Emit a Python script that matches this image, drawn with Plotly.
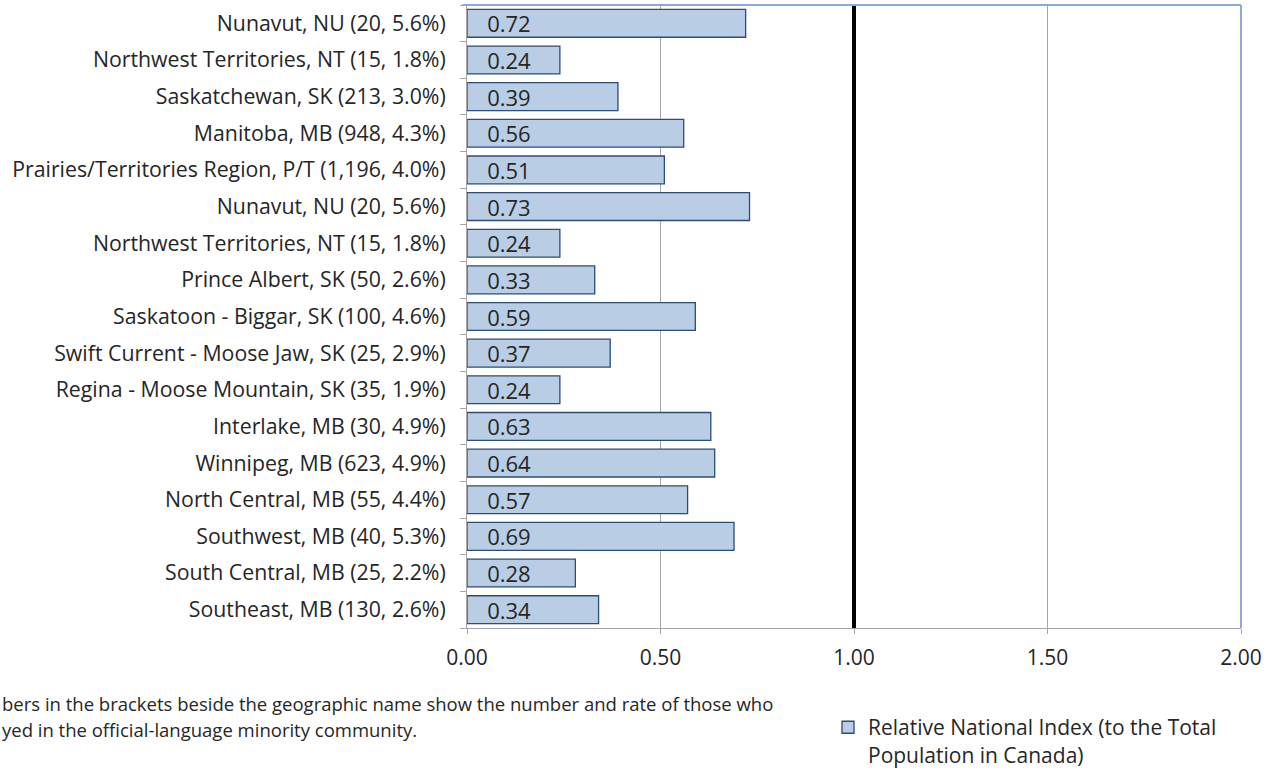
"""Relative National Index by region - horizontal bar chart"""

import plotly.graph_objects as go

# categories, bottom to top (as drawn on the y axis)
regions = [
    "Southeast, MB (130, 2.6%)",
    "South Central, MB (25, 2.2%)",
    "Southwest, MB (40, 5.3%)",
    "North Central, MB (55, 4.4%)",
    "Winnipeg, MB (623, 4.9%)",
    "Interlake, MB (30, 4.9%)",
    "Regina - Moose Mountain, SK (35, 1.9%)",
    "Swift Current - Moose Jaw, SK (25, 2.9%)",
    "Saskatoon - Biggar, SK (100, 4.6%)",
    "Prince Albert, SK (50, 2.6%)",
    "Northwest Territories, NT (15, 1.8%)",
    "Nunavut, NU (20, 5.6%)",
    "Prairies/Territories Region, P/T (1,196, 4.0%)",
    "Manitoba, MB (948, 4.3%)",
    "Saskatchewan, SK (213, 3.0%)",
    "Northwest Territories, NT (15, 1.8%)",
    "Nunavut, NU (20, 5.6%)",
]
index_values = [0.34, 0.28, 0.69, 0.57, 0.64, 0.63, 0.24, 0.37, 0.59, 0.33,
                0.24, 0.73, 0.51, 0.56, 0.39, 0.24, 0.72]
x_ticks = [0.0, 0.5, 1.0, 1.5, 2.0]
x_tick_labels = ["0.00", "0.50", "1.00", "1.50", "2.00"]
national_index = 1.0

series_name = "Relative National Index (to the Total<br>Population in Canada)"
# the note is cut at the left edge of the original image
note_line1 = ("bers in the brackets beside the geographic name show the number "
              "and rate of those who")
note_line2 = "yed in the official-language minority community."

FONT = "Open Sans"
TXT = "#262626"
FS = 21

positions = list(range(len(regions)))  # numeric slots, labels repeat

fig = go.Figure()
fig.add_trace(
    go.Bar(
        x=index_values,
        y=positions,
        orientation="h",
        width=0.76,
        name=series_name,
        marker=dict(color="#B9CDE5", line=dict(color="#2C4D75", width=1.3)),
        text=["\u00a0\u00a0\u00a0%.2f" % v for v in index_values],
        textposition="inside",
        insidetextanchor="start",
        textangle=0,
        constraintext="none",
        textfont=dict(family=FONT, size=22, color=TXT),
        showlegend=True,
    )
)
# dummy trace on yaxis2 to carry boundary tick marks
fig.add_trace(
    go.Scatter(x=[None], y=[None], yaxis="y2", showlegend=False, hoverinfo="skip")
)

fig.add_shape(type="line", xref="x", yref="paper", x0=national_index,
              x1=national_index, y0=0, y1=1, line=dict(color="black", width=4))
# blue frame on top and right
fig.add_shape(type="line", xref="paper", yref="paper", x0=-0.006, x1=1, y0=1, y1=1,
              line=dict(color="#8EAADB", width=2))
fig.add_shape(type="line", xref="paper", yref="paper", x0=1, x1=1, y0=0, y1=1,
              line=dict(color="#8EAADB", width=2))

fig.add_annotation(text=note_line1, xref="paper", yref="paper", x=-0.6034, y=-0.1204,
                   xanchor="left", yanchor="middle", showarrow=False,
                   font=dict(family=FONT, size=18.5, color=TXT))
fig.add_annotation(text=note_line2, xref="paper", yref="paper", x=-0.6034, y=-0.1637,
                   xanchor="left", yanchor="middle", showarrow=False,
                   font=dict(family=FONT, size=18.5, color=TXT))

fig.update_layout(
    width=1266,
    height=770,
    margin=dict(l=467, r=25, t=5, b=142, autoexpand=False),
    paper_bgcolor="white",
    plot_bgcolor="white",
    font=dict(family=FONT, size=FS, color=TXT),
    xaxis=dict(
        range=[0, 2],
        tickvals=x_ticks,
        ticktext=x_tick_labels,
        showgrid=True,
        gridcolor="#A6A6A6",
        gridwidth=1,
        zeroline=False,
        showline=True,
        linecolor="#A6A6A6",
        linewidth=1,
        ticks="outside",
        ticklen=5,
        tickcolor="#A6A6A6",
        ticklabelstandoff=6,
        tickfont=dict(family=FONT, size=FS, color=TXT),
        fixedrange=True,
    ),
    yaxis=dict(
        range=[-0.5, len(regions) - 0.5],
        tickvals=positions,
        ticktext=regions,
        ticks="",
        showgrid=False,
        zeroline=False,
        showline=True,
        linecolor="#A6A6A6",
        linewidth=1,
        ticklabelstandoff=16,
        tickfont=dict(family=FONT, size=21.3, color=TXT),
        fixedrange=True,
    ),
    yaxis2=dict(
        overlaying="y",
        side="left",
        range=[-0.5, len(regions) - 0.5],
        tickvals=[p - 0.5 for p in positions] + [len(regions) - 0.5],
        showticklabels=False,
        ticks="outside",
        ticklen=6,
        tickcolor="#A6A6A6",
        showgrid=False,
        zeroline=False,
        showline=False,
        fixedrange=True,
    ),
    legend=dict(
        x=0.4664,
        y=-0.127,
        xanchor="left",
        yanchor="top",
        valign="top",
        itemwidth=30,
        font=dict(family=FONT, size=FS, color=TXT),
        bgcolor="rgba(0,0,0,0)",
    ),
)

fig.write_html(
    "out.html",
    config={"displayModeBar": False},
    post_script="document.body.style.margin='0';",
)
